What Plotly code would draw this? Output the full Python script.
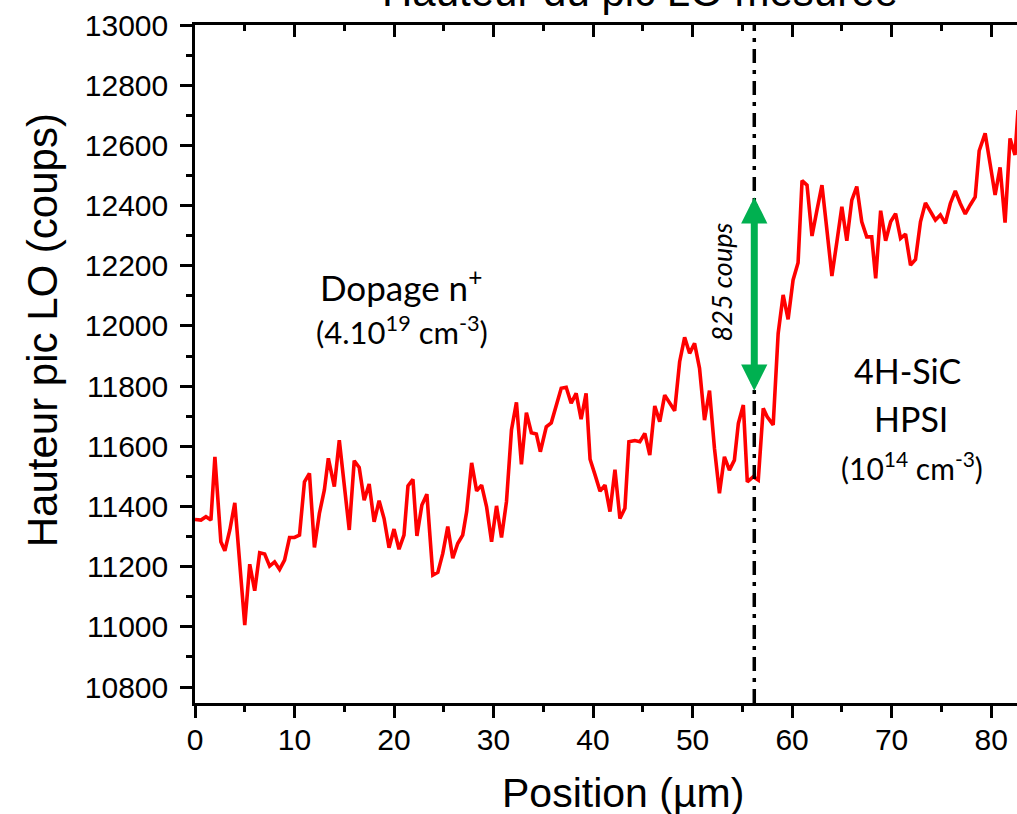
import plotly.graph_objects as go

# ---- data ----
position_um = [0, 0.6, 1.1, 1.6, 2.0, 2.6, 3.0, 3.5, 4.0, 4.5, 5.0, 5.5, 6.0, 6.5, 7.0, 7.5, 8.0, 8.5, 9.0, 9.5,
               10.0, 10.5, 11.0, 11.5, 12.0, 12.5, 13.0, 13.4, 14.0, 14.5, 15.0, 15.5, 16.0, 16.5, 17.0, 17.5, 18.0,
               18.5, 19.0, 19.5, 20.0, 20.5, 21.0, 21.4, 21.9, 22.3, 22.8, 23.3, 23.9, 24.4, 24.9, 25.4, 25.9, 26.4,
               26.9, 27.3, 27.8, 28.3, 28.8, 29.3, 29.8, 30.3, 30.8, 31.3, 31.8, 32.3, 32.8, 33.3, 33.8, 34.3, 34.7,
               35.3, 35.8, 36.3, 36.8, 37.3, 37.8, 38.3, 38.8, 39.3, 39.7, 40.2, 40.7, 41.2, 41.7, 42.2, 42.7, 43.2,
               43.6, 44.2, 44.7, 45.2, 45.7, 46.2, 46.7, 47.2, 47.7, 48.2, 48.7, 49.2, 49.7, 50.2, 50.7, 51.2, 51.7,
               52.2, 52.7, 53.2, 53.7, 54.2, 54.6, 55.1, 55.5, 56.1, 56.6, 57.1, 57.5, 58.1, 58.6, 59.1, 59.6, 60.1,
               60.6, 61.0, 61.5, 62.0, 62.5, 63.0, 63.5, 64.0, 64.5, 65.0, 65.5, 66.0, 66.5, 67.0, 67.5, 68.0, 68.4,
               68.9, 69.4, 69.9, 70.4, 70.9, 71.4, 71.9, 72.4, 72.9, 73.4, 73.9, 74.4, 74.9, 75.4, 75.9, 76.4, 76.9,
               77.4, 77.9, 78.4, 78.8, 79.4, 79.9, 80.4, 80.9, 81.4, 81.9, 82.4, 82.7]

lo_peak_height = [11357, 11355, 11366, 11355, 11565, 11283, 11253, 11322, 11412, 11210, 11006, 11208, 11120, 11246,
                  11242, 11202, 11216, 11191, 11222, 11297, 11297, 11305, 11482, 11510, 11264, 11377, 11455, 11560,
                  11466, 11620, 11478, 11322, 11552, 11530, 11421, 11475, 11349, 11419, 11360, 11263, 11325, 11258,
                  11305, 11468, 11490, 11302, 11405, 11441, 11172, 11181, 11244, 11333, 11228, 11277, 11305, 11383,
                  11545, 11452, 11471, 11399, 11283, 11402, 11297, 11416, 11654, 11746, 11540, 11712, 11645, 11641,
                  11582, 11665, 11678, 11737, 11793, 11796, 11743, 11776, 11690, 11776, 11557, 11505, 11451, 11471,
                  11383, 11522, 11360, 11394, 11615, 11619, 11615, 11643, 11571, 11734, 11682, 11770, 11745, 11718,
                  11881, 11962, 11909, 11942, 11859, 11687, 11785, 11593, 11444, 11565, 11521, 11554, 11676, 11737,
                  11482, 11499, 11488, 11726, 11698, 11671, 11975, 12103, 12022, 12153, 12210, 12483, 12468, 12299,
                  12385, 12468, 12319, 12166, 12280, 12396, 12283, 12418, 12463, 12346, 12296, 12296, 12158, 12383,
                  12283, 12346, 12373, 12291, 12305, 12202, 12221, 12346, 12409, 12380, 12352, 12369, 12341, 12407,
                  12449, 12407, 12372, 12402, 12429, 12582, 12640, 12538, 12435, 12527, 12343, 12623, 12568, 12717]

interface_position = 56.2
arrow_top = 12428
arrow_bottom = 11780
x_range = [0, 82.6]
y_range = [10747, 13000]

AX_FONT = "Liberation Sans, Arial, sans-serif"
ANN_FONT = "Lato, Carlito, Calibri, sans-serif"

fig = go.Figure()
fig.add_trace(go.Scatter(x=position_um, y=lo_peak_height, mode="lines",
                         line=dict(color="#ff0000", width=3.6), showlegend=False, hoverinfo="skip"))
# invisible trace to host the mirrored top axis
fig.add_trace(go.Scatter(x=[], y=[], xaxis="x2", showlegend=False))

# interface line
fig.add_shape(type="line", xref="x", yref="paper", x0=interface_position, x1=interface_position,
              y0=0, y1=1, line=dict(color="black", width=3.5, dash="14px,7px,4px,7px"))

tick_common = dict(showline=True, linecolor="black", linewidth=2.5, tickcolor="black", tickwidth=2.5,
                   showgrid=False, zeroline=False)

fig.update_layout(
    width=1017, height=814,
    margin=dict(l=195, r=0, t=25, b=111),
    plot_bgcolor="white", paper_bgcolor="white",
    xaxis=dict(range=x_range, dtick=10, tick0=0, ticks="outside", ticklen=12, ticklabelstandoff=-4,
               tickfont=dict(family=AX_FONT, size=30, color="black"),
               minor=dict(dtick=5, ticks="outside", ticklen=6, tickwidth=2.5, tickcolor="black"),
               **tick_common),
    xaxis2=dict(range=x_range, overlaying="x", side="top", anchor="y", dtick=10, tick0=0, ticks="inside",
                ticklen=12, showticklabels=False,
                minor=dict(dtick=5, ticks="inside", ticklen=6, tickwidth=2.5, tickcolor="black"),
                **tick_common),
    yaxis=dict(range=y_range, dtick=200, tick0=10800, ticks="outside", ticklen=12, ticklabelstandoff=6,
               tickformat="d",
               tickfont=dict(family=AX_FONT, size=30, color="black"),
               minor=dict(dtick=100, ticks="outside", ticklen=6, tickwidth=2.5, tickcolor="black"),
               **tick_common),
)

annotations = [
    dict(text="Hauteur du pic LO mesurée", xref="paper", yref="paper", x=0.541, y=1.0118,
         xanchor="center", yanchor="bottom", font=dict(family=AX_FONT, size=42, color="black")),
    dict(text="Hauteur pic LO (coups)", xref="paper", yref="paper", x=-0.1855, y=0.549, textangle=-90,
         xanchor="center", yanchor="middle", font=dict(family=AX_FONT, size=42, color="black")),
    dict(text="Position (µm)", xref="paper", yref="paper", x=0.521, y=-0.133,
         xanchor="center", yanchor="middle", font=dict(family=AX_FONT, size=41, color="black")),
    dict(text="Dopage n<sup>+</sup>", x=20.7, y=12136, xanchor="center", yanchor="middle",
         font=dict(family=ANN_FONT, size=35, color="black")),
    dict(text="(4.10<sup>19</sup> cm<sup>-3</sup>)", x=20.8, y=11986, xanchor="center", yanchor="middle",
         font=dict(family=ANN_FONT, size=31, color="black")),
    dict(text="<i>825 coups</i>", x=52.9, y=12146, textangle=-90, xanchor="center", yanchor="middle",
         font=dict(family=ANN_FONT, size=27, color="black")),
    dict(text="4H-SiC", x=71.6, y=11853, xanchor="center", yanchor="middle",
         font=dict(family=ANN_FONT, size=34, color="black")),
    dict(text="HPSI", x=71.9, y=11694, xanchor="center", yanchor="middle",
         font=dict(family=ANN_FONT, size=34, color="black")),
    dict(text="(10<sup>14</sup> cm<sup>-3</sup>)", x=72.0, y=11534, xanchor="center", yanchor="middle",
         font=dict(family=ANN_FONT, size=30, color="black")),
    # double headed green arrow
    dict(text="", x=interface_position, y=arrow_top, ax=interface_position, ay=arrow_bottom,
         xref="x", yref="y", axref="x", ayref="y", showarrow=True, arrowhead=2, startarrowhead=2,
         arrowside="end+start", arrowwidth=7, arrowsize=0.75, startarrowsize=0.75, arrowcolor="#00b050"),
]
for a in annotations:
    a.setdefault("showarrow", False)
fig.update_layout(annotations=annotations)

# remove the default 8px page margin so the 1017x814 figure fills the window exactly
fig.write_html("out.html", config={"displayModeBar": False},
               post_script="document.body.style.margin='0px';document.body.style.overflow='hidden';")
